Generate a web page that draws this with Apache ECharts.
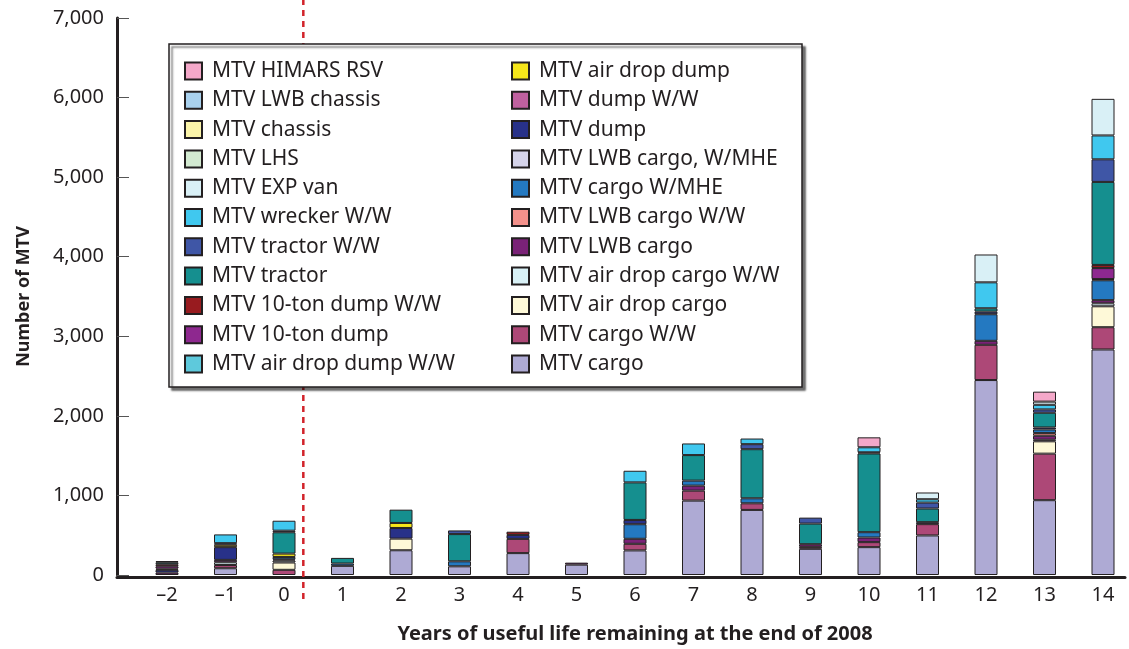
<!DOCTYPE html>
<html>
<head>
<meta charset="utf-8">
<title>MTV useful life remaining</title>
<script src="https://cdn.jsdelivr.net/npm/echarts@6/dist/echarts.min.js"></script>
<style>
  html, body { margin: 0; padding: 0; background: #fff; }
  #chart { width: 1129px; height: 649px; }
</style>
</head>
<body>
<div id="chart"></div>
<script>
// categories: years of useful life remaining at the end of 2008
var years = ['-2', '-1', '0', '1', '2', '3', '4', '5', '6', '7', '8', '9', '10', '11', '12', '13', '14'];
var yTicks = [0, 1000, 2000, 3000, 4000, 5000, 6000, 7000];
// position of the red dotted divider (between year 0 and year 1)
var cutoffYear = 0.33;

// series values, one per year, stacking order bottom -> top
var cargo          = [0, 85, 0, 115, 311, 109, 275, 130, 309, 935, 818, 329, 350, 497, 2450, 940, 2834];
var cargoWW        = [0, 40, 65, 0, 0, 0, 179, 0, 83, 125, 83, 25, 63, 142, 443, 585, 280];
var airDropCargo   = [0, 0, 92, 0, 146, 0, 0, 0, 0, 0, 0, 0, 0, 0, 0, 155, 263];
var airDropCargoWW = [0, 35, 25, 0, 0, 0, 0, 0, 0, 0, 0, 0, 0, 0, 0, 20, 37];
var lwbCargo       = [30, 30, 15, 0, 0, 0, 0, 25, 63, 63, 0, 33, 58, 0, 50, 50, 40];
var lwbCargoWW     = [0, 0, 0, 0, 0, 0, 0, 0, 0, 0, 0, 0, 0, 0, 0, 33, 0];
var cargoWMHE      = [0, 0, 30, 29, 0, 63, 0, 0, 183, 63, 63, 0, 67, 0, 334, 46, 250];
var lwbCargoWMHE   = [0, 0, 0, 0, 0, 0, 0, 0, 0, 0, 0, 0, 0, 0, 0, 0, 0];
var dump           = [35, 160, 0, 0, 134, 0, 50, 0, 54, 0, 0, 0, 0, 25, 33, 25, 15];
var dumpWW         = [0, 0, 0, 0, 0, 0, 0, 0, 0, 0, 0, 0, 0, 0, 0, 0, 0];
var airDropDump    = [15, 30, 42, 0, 63, 0, 0, 0, 0, 0, 0, 0, 0, 0, 0, 0, 0];
var airDropDumpWW  = [0, 0, 0, 0, 0, 0, 0, 0, 0, 0, 0, 0, 0, 0, 0, 0, 0];
var tenTonDump     = [30, 0, 0, 0, 0, 0, 0, 0, 0, 0, 0, 0, 0, 0, 0, 0, 138];
var tenTonDumpWW   = [25, 0, 0, 0, 0, 0, 40, 0, 0, 0, 0, 0, 0, 0, 0, 0, 40];
var tractor        = [25, 0, 268, 71, 167, 342, 0, 0, 472, 321, 617, 259, 989, 171, 42, 185, 1043];
var tractorWW      = [15, 20, 20, 0, 0, 46, 0, 0, 0, 0, 63, 75, 15, 75, 0, 42, 284];
var wreckerWW      = [0, 110, 125, 0, 0, 0, 0, 0, 146, 146, 71, 0, 63, 42, 326, 58, 300];
var expVan         = [0, 0, 0, 0, 0, 0, 0, 0, 0, 0, 0, 0, 0, 85, 350, 40, 460];
var lhs            = [0, 0, 0, 0, 0, 0, 0, 0, 0, 0, 0, 0, 0, 0, 0, 0, 0];
var chassis        = [0, 0, 0, 0, 0, 0, 0, 0, 0, 0, 0, 0, 0, 0, 0, 0, 0];
var lwbChassis     = [0, 0, 0, 0, 0, 0, 0, 0, 0, 0, 0, 0, 0, 0, 0, 0, 0];
var himarsRSV      = [0, 0, 0, 0, 0, 0, 0, 0, 0, 0, 0, 0, 125, 0, 0, 125, 0];

// name, colour, values (bottom -> top)
var seriesList = [
	['MTV cargo', '#aeaad4', cargo],
	['MTV cargo W/W', '#ad4877', cargoWW],
	['MTV air drop cargo', '#fef9d8', airDropCargo],
	['MTV air drop cargo W/W', '#d9f1f6', airDropCargoWW],
	['MTV LWB cargo', '#7a2277', lwbCargo],
	['MTV LWB cargo W/W', '#f4918b', lwbCargoWW],
	['MTV cargo W/MHE', '#2479c1', cargoWMHE],
	['MTV LWB cargo, W/MHE', '#d6d4ea', lwbCargoWMHE],
	['MTV dump', '#283189', dump],
	['MTV dump W/W', '#c0609f', dumpWW],
	['MTV air drop dump', '#f6e61a', airDropDump],
	['MTV air drop dump W/W', '#5ec9dc', airDropDumpWW],
	['MTV 10-ton dump', '#8e288f', tenTonDump],
	['MTV 10-ton dump W/W', '#981b1f', tenTonDumpWW],
	['MTV tractor', '#158f8f', tractor],
	['MTV tractor W/W', '#3f56a6', tractorWW],
	['MTV wrecker W/W', '#40c8ef', wreckerWW],
	['MTV EXP van', '#d9f0f6', expVan],
	['MTV LHS', '#d3ead1', lhs],
	['MTV chassis', '#fbf4a9', chassis],
	['MTV LWB chassis', '#a9d1ee', lwbChassis],
	['MTV HIMARS RSV', '#f4a8c9', himarsRSV]
];

// legend columns: top of stack first
var names = seriesList.map(function(s) { return s[0]; }).reverse();
var legendCol1 = names.slice(0, 11);
var legendCol2 = names.slice(11);

var ink = '#231f20';
var font = '"Noto Sans", "Open Sans", sans-serif';

var series = seriesList.map(function(s) {
	return {
		name: s[0],
		type: 'bar',
		stack: 'mtv',
		barWidth: 23,
		clip: false,
		itemStyle: { color: s[1], borderColor: ink, borderWidth: 1 },
		data: s[2].map(function(v) { return v > 0 ? v : '-'; })
	};
});

// red dotted divider, on a second (hidden) grid so it runs above and below the plot
series.push({
	name: 'cutoff',
	type: 'line',
	xAxisIndex: 1,
	yAxisIndex: 1,
	symbol: 'none',
	silent: true,
	clip: false,
	z: 1,
	lineStyle: { color: '#d2232a', width: 2.5, type: [6, 5] },
	data: [[cutoffYear, -0.038], [cutoffYear, 1]]
});

var legendBase = {
	orient: 'vertical',
	icon: 'rect',
	itemWidth: 17,
	itemHeight: 17,
	itemGap: 7.3,
	selectedMode: false,
	textStyle: { fontFamily: font, fontSize: 21, lineHeight: 22, color: ink, width: 300, padding: [0, 0, 0, 5] }
};

// value range of the full-width frame, so that year -2 sits at the first bar and 14 at the last
var xMin = -2.855, xMax = 14.376;

var myChart = echarts.init(document.getElementById('chart'));
myChart.setOption({
	animation: false,
	backgroundColor: '#fff',
	textStyle: { fontFamily: font },
	grid: [
		{ left: 167, right: 26, top: 18, bottom: 72 },
		{ left: 117, right: 4, top: 0, bottom: 72 }
	],
	legend: [
		Object.assign({}, legendBase, {
			data: legendCol1,
			left: 169,
			top: 44,
			padding: [16, 290, 12, 15],
			backgroundColor: '#fff',
			borderColor: ink,
			borderWidth: 1.5,
			shadowColor: 'rgba(0,0,0,0.55)',
			shadowBlur: 2,
			shadowOffsetX: 3,
			shadowOffsetY: 3
		}),
		Object.assign({}, legendBase, {
			data: legendCol2,
			left: 511,
			top: 60,
			padding: 0,
			z: 6
		})
	],
	xAxis: [{
		type: 'category',
		gridIndex: 0,
		data: years,
		boundaryGap: false,
		name: 'Years of useful life remaining at the end of 2008',
		nameLocation: 'middle',
		nameGap: 49,
		nameTextStyle: { fontFamily: font, fontSize: 20, fontWeight: 'bold', color: ink },
		axisLine: { show: false },
		axisTick: { show: false },
		splitLine: { show: false },
		axisLabel: {
			interval: 0,
			margin: 10,
			fontSize: 20,
			color: ink,
			formatter: function(v) { return v.replace('-', '\u2013'); }
		}
	}, {
		// full-width baseline of the plot
		type: 'value',
		gridIndex: 1,
		min: xMin,
		max: xMax,
		axisLine: { show: true, lineStyle: { color: ink, width: 3 } },
		axisTick: { show: false },
		axisLabel: { show: false },
		splitLine: { show: false }
	}],
	yAxis: [{
		type: 'value',
		gridIndex: 0,
		min: 0,
		max: 7000,
		interval: 1000,
		offset: 50,
		name: 'Number of MTV',
		nameLocation: 'middle',
		nameGap: 84,
		nameTextStyle: { fontFamily: font, fontSize: 18, fontWeight: 'bold', color: ink },
		axisLine: { show: true, lineStyle: { color: ink, width: 3 } },
		axisTick: { show: true, inside: true, length: 12, lineStyle: { color: '#555', width: 1 } },
		splitLine: { show: false },
		axisLabel: {
			margin: 13,
			fontSize: 20,
			color: ink,
			formatter: function(v) { return v.toLocaleString('en-US'); }
		}
	}, {
		type: 'value',
		gridIndex: 1,
		min: 0,
		max: 1,
		show: false
	}],
	series: series
});
</script>
</body>
</html>
